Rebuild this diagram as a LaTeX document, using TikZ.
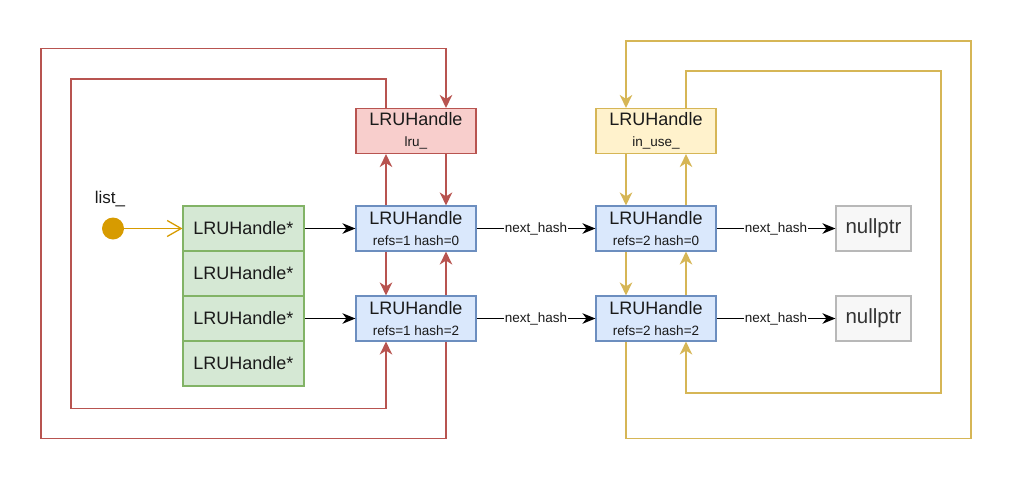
\documentclass[tikz,border=0pt]{standalone}
\usepackage{fontspec}
\setmainfont{Liberation Sans}
\usetikzlibrary{arrows.meta}
\definecolor{redF}{HTML}{F8CECC}
\definecolor{redS}{HTML}{B85450}
\definecolor{blueF}{HTML}{DAE8FC}
\definecolor{blueS}{HTML}{6C8EBF}
\definecolor{greenF}{HTML}{D5E8D4}
\definecolor{greenS}{HTML}{82B366}
\definecolor{yelF}{HTML}{FFF2CC}
\definecolor{yelS}{HTML}{D6B656}
\definecolor{grayF}{HTML}{F7F7F7}
\definecolor{grayS}{HTML}{B8B8B8}
\definecolor{grayT}{HTML}{333333}
\definecolor{txtC}{HTML}{1A1A1A}
\definecolor{dotC}{HTML}{D79B00}
\newcommand{\ttl}{\fontsize{18}{21}\selectfont}
\newcommand{\sbt}{\fontsize{13.5}{21}\selectfont}
\tikzset{
  box/.style={draw, line width=1.1pt, minimum width=120pt, minimum height=45pt, inner sep=0pt, align=center, font=\ttl, text=txtC},
  redbox/.style={box, fill=redF, draw=redS},
  bluebox/.style={box, fill=blueF, draw=blueS},
  yelbox/.style={box, fill=yelF, draw=yelS},
  greenbox/.style={box, fill=greenF, draw=greenS, minimum width=121pt},
  nullbox/.style={box, fill=grayF, draw=grayS, minimum width=75pt, text=grayT, font=\fontsize{20.5}{22}\selectfont},
  blk/.style={-{Stealth[length=13pt,width=10.5pt,inset=4pt]}, line width=1.3pt, black},
  ctip/.style={-{Stealth[length=13pt,width=12.5pt,inset=4pt]}, line width=1.3pt},
  redl/.style={ctip, redS},
  yell/.style={ctip, yelS},
  lbl/.style={fill=white, inner sep=1pt, text=txtC, font=\fontsize{13.5}{15}\selectfont}
}
\begin{document}
\begin{tikzpicture}[x=1pt, y=-1pt]
\useasboundingbox (0,0) rectangle (1014,482);
% nodes
\node[redbox] (lru) at (416,131) {LRUHandle\\{\sbt lru\_}};
\node[bluebox] (b1) at (416,228.5) {LRUHandle\\{\sbt refs=1 hash=0}};
\node[bluebox] (b2) at (416,318.5) {LRUHandle\\{\sbt refs=1 hash=2}};
\node[yelbox] (iu) at (656,131) {LRUHandle\\{\sbt in\_use\_}};
\node[bluebox] (r1) at (656,228.5) {LRUHandle\\{\sbt refs=2 hash=0}};
\node[bluebox] (r2) at (656,318.5) {LRUHandle\\{\sbt refs=2 hash=2}};
\node[nullbox] (n1) at (873.5,228.5) {nullptr};
\node[nullbox] (n2) at (873.5,318.5) {nullptr};
\node[greenbox] (g0) at (243.5,228.5) {LRUHandle*};
\node[greenbox] (g1) at (243.5,273.5) {LRUHandle*};
\node[greenbox] (g2) at (243.5,318.5) {LRUHandle*};
\node[greenbox] (g3) at (243.5,363.5) {LRUHandle*};
\node[circle, fill=dotC, minimum size=22pt, inner sep=0pt] (dot) at (113,228.5) {};
\node[font=\fontsize{17}{19}\selectfont, text=txtC] (lst) at (110,199) {list\_};
% list arrow
\draw[dotC, line width=1.3pt, -{Straight Barb[length=14pt,width=16pt]}] (dot) -- (g0.west);
% black arrows
\draw[blk] (g0.east) -- (b1.west);
\draw[blk] (g2.east) -- (b2.west);
\draw[blk] (b1.east) -- node[lbl] {next\_hash} (r1.west);
\draw[blk] (b2.east) -- node[lbl] {next\_hash} (r2.west);
\draw[blk] (r1.east) -- node[lbl] {next\_hash} (n1.west);
\draw[blk] (r2.east) -- node[lbl] {next\_hash} (n2.west);
% red links
\draw[redl] ([xshift=30pt]lru.south) -- ([xshift=30pt]b1.north);
\draw[redl] ([xshift=-30pt]b1.north) -- ([xshift=-30pt]lru.south);
\draw[redl] ([xshift=-30pt]b1.south) -- ([xshift=-30pt]b2.north);
\draw[redl] ([xshift=30pt]b2.north) -- ([xshift=30pt]b1.south);
\draw[redl] ([xshift=30pt]b2.south) -- (446,438.5) -| (41,48.5) -| ([xshift=30pt]lru.north);
\draw[redl] ([xshift=-30pt]lru.north) |- (71,79) |- (386,408.5) -- ([xshift=-30pt]b2.south);
% yellow links
\draw[yell] ([xshift=-30pt]iu.south) -- ([xshift=-30pt]r1.north);
\draw[yell] ([xshift=30pt]r1.north) -- ([xshift=30pt]iu.south);
\draw[yell] ([xshift=-30pt]r1.south) -- ([xshift=-30pt]r2.north);
\draw[yell] ([xshift=30pt]r2.north) -- ([xshift=30pt]r1.south);
\draw[yell] ([xshift=-30pt]r2.south) -- (626,438.5) -| (971,41) -| ([xshift=-30pt]iu.north);
\draw[yell] ([xshift=30pt]iu.north) |- (941,71) |- (686,393) -- ([xshift=30pt]r2.south);
\end{tikzpicture}
\end{document}
